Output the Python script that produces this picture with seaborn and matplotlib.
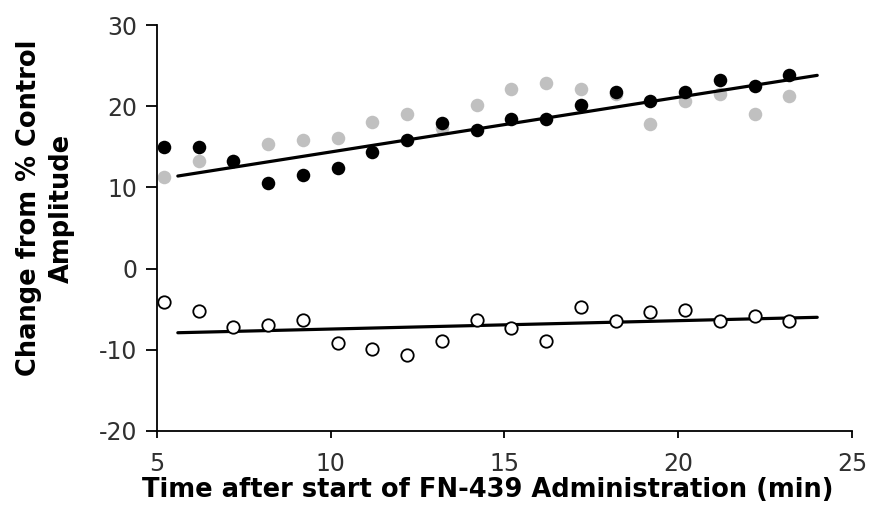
import numpy as np
import pandas as pd
import matplotlib
matplotlib.use("Agg")
import matplotlib.pyplot as plt
import seaborn as sns

# ---- data ----
time_min = [5.2, 6.2, 7.2, 8.2, 9.2, 10.2, 11.2, 12.2, 13.2, 14.2,
            15.2, 16.2, 17.2, 18.2, 19.2, 20.2, 21.2, 22.2, 23.2]
black_vals = [15.0, 15.0, 13.3, 10.6, 11.5, 12.4, 14.4, 15.9, 17.9, 17.1,
              18.4, 18.4, 20.1, 21.7, 20.6, 21.7, 23.2, 22.5, 23.9]
grey_vals = [11.3, 13.2, 13.2, 15.4, 15.9, 16.1, 18.1, 19.0, 17.3, 20.1,
             22.1, 22.9, 22.1, 21.5, 17.8, 20.6, 21.5, 19.0, 21.3]
open_vals = [-4.1, -5.2, -7.2, -7.0, -6.3, -9.2, -9.9, -10.6, -8.9, -6.3,
             -7.3, -8.9, -4.7, -6.5, -5.3, -5.1, -6.5, -5.9, -6.4]
trend_x = [5.6, 24.0]
black_trend = [11.4, 23.8]
open_trend = [-7.9, -6.0]

x_ticks = [5, 10, 15, 20, 25]
y_ticks = [-20, -10, 0, 10, 20, 30]

sns.set_theme(style="ticks")
plt.rcParams['font.family'] = ['DejaVu Sans']
plt.rcParams['axes.unicode_minus'] = False

fig = plt.figure(figsize=(8.74, 5.29), dpi=100)
ax = fig.add_axes([0.1796, 0.1853, 0.7952, 0.7674])

df = pd.DataFrame({"t": time_min, "black": black_vals, "grey": grey_vals, "open": open_vals})

sns.scatterplot(data=df, x="t", y="grey", ax=ax, color="#c0c0c0", s=95,
                edgecolor="#c0c0c0", linewidth=0, zorder=2)
sns.scatterplot(data=df, x="t", y="black", ax=ax, color="black", s=95,
                edgecolor="black", linewidth=0, zorder=3)
sns.scatterplot(data=df, x="t", y="open", ax=ax, color="white", s=80,
                edgecolor="black", linewidth=1.3, zorder=3)

tr = pd.DataFrame({"x": trend_x, "b": black_trend, "o": open_trend})
sns.lineplot(data=tr, x="x", y="b", ax=ax, color="black", linewidth=2.3, zorder=4)
sns.lineplot(data=tr, x="x", y="o", ax=ax, color="black", linewidth=2.3, zorder=2)

ax.set_xlim(5, 25)
ax.set_ylim(-20, 30)
ax.set_xticks(x_ticks)
ax.set_yticks(y_ticks)
ax.tick_params(axis="both", direction="out", width=1.3, labelsize=17,
               colors="black", labelcolor="#303030")
ax.tick_params(axis="x", length=5, pad=10)
ax.tick_params(axis="y", length=8, pad=6)
for s in ["left", "bottom"]:
    ax.spines[s].set_linewidth(1.3)
    ax.spines[s].set_color("black")
sns.despine(ax=ax)

ax.set_xlabel("Time after start of FN-439 Administration (min)", fontsize=18.5,
              fontweight="bold", color="black")
ax.set_ylabel("Change from % Control\nAmplitude", fontsize=18.5,
              fontweight="bold", linespacing=1.35, color="black")
ax.xaxis.set_label_coords(0.476, -0.146)
ax.yaxis.set_label_coords(-0.161, 0.549)
ax.xaxis.label.set_va("center")
ax.yaxis.label.set_va("center")

fig.savefig("out.png", dpi=100)
